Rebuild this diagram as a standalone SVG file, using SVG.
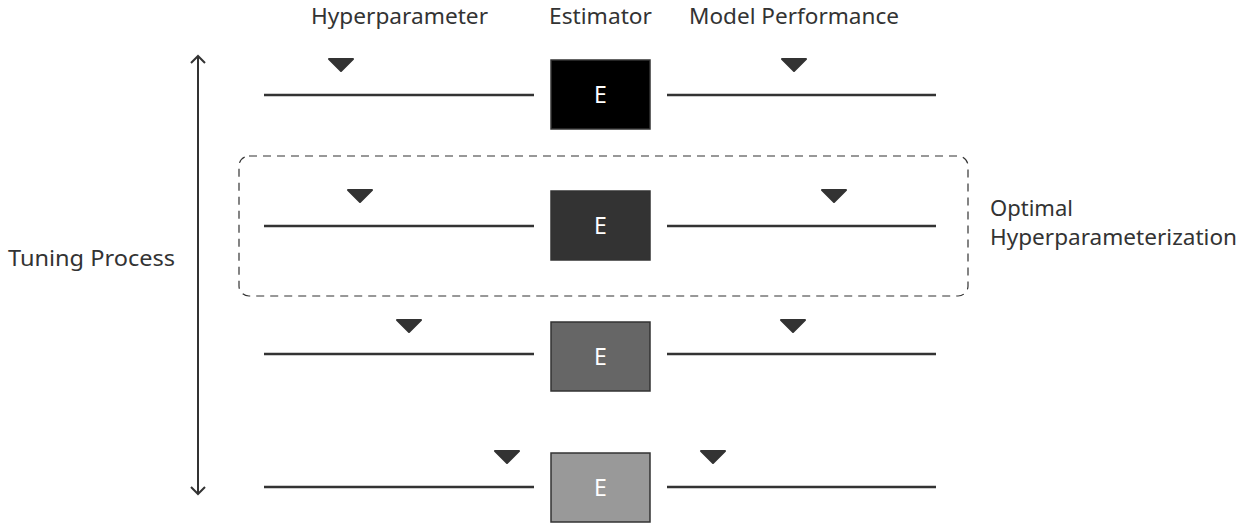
<svg xmlns="http://www.w3.org/2000/svg" width="1245" height="531" viewBox="0 0 1245 531">
<defs>
<style>
.t{font-family:"Noto Sans","DejaVu Sans",sans-serif;font-size:22.5px;fill:#333}
.e{font-family:"Noto Sans","DejaVu Sans",sans-serif;font-size:23px;fill:#fff;text-anchor:middle}
.ln{stroke:#333;stroke-width:2.5;fill:none}
.tri{fill:#333;stroke:#333;stroke-width:2;stroke-linejoin:round}
.box{stroke:#333;stroke-width:1.5}
</style>
<marker id="ah" viewBox="0 0 16 16" refX="8" refY="8" markerWidth="16" markerHeight="16" markerUnits="userSpaceOnUse" orient="auto-start-reverse">
<path d="M1,1 L8,8 L1,15" fill="none" stroke="#333" stroke-width="2"/>
</marker>
</defs>
<rect width="1245" height="531" fill="#fff"/>
<g id="headers">
<text class="t" x="311" y="24" textLength="177" lengthAdjust="spacingAndGlyphs">Hyperparameter</text>
<text class="t" x="549" y="24" textLength="103" lengthAdjust="spacingAndGlyphs">Estimator</text>
<text class="t" x="689" y="24" textLength="210" lengthAdjust="spacingAndGlyphs">Model Performance</text>
</g>
<g id="tuning">
<text class="t" x="8" y="266" textLength="167" lengthAdjust="spacingAndGlyphs">Tuning Process</text>
</g>
<g id="optimal">
<rect x="239" y="156" width="729" height="140" rx="10" fill="none" stroke="#333" stroke-width="1.2" stroke-dasharray="8,6"/>
<text class="t" x="990" y="216" textLength="83" lengthAdjust="spacingAndGlyphs">Optimal</text>
<text class="t" x="990" y="245" textLength="247" lengthAdjust="spacingAndGlyphs">Hyperparameterization</text>
</g>
<g id="connectors">
<line class="ln" x1="198" y1="56" x2="198" y2="494" marker-start="url(#ah)" marker-end="url(#ah)" style="stroke-width:2"/>
<line class="ln" x1="264" y1="95" x2="534" y2="95"/>
<line class="ln" x1="667" y1="95" x2="936" y2="95"/>
<line class="ln" x1="264" y1="226" x2="534" y2="226"/>
<line class="ln" x1="667" y1="226" x2="936" y2="226"/>
<line class="ln" x1="264" y1="354" x2="534" y2="354"/>
<line class="ln" x1="667" y1="354" x2="936" y2="354"/>
<line class="ln" x1="264" y1="487" x2="534" y2="487"/>
<line class="ln" x1="667" y1="487" x2="936" y2="487"/>
</g>
<g id="row1">
<rect class="box" x="551" y="60" width="99" height="69" fill="#000"/>
<text class="e" x="600.5" y="103">E</text>
<polygon class="tri" points="329,59 353,59 341,71"/>
<polygon class="tri" points="782,59 806,59 794,71"/>
</g>
<g id="row2">
<rect class="box" x="551" y="191" width="99" height="69" fill="#333"/>
<text class="e" x="600.5" y="234">E</text>
<polygon class="tri" points="348,190 372,190 360,202"/>
<polygon class="tri" points="822,190 846,190 834,202"/>
</g>
<g id="row3">
<rect class="box" x="551" y="322" width="99" height="69" fill="#666"/>
<text class="e" x="600.5" y="365">E</text>
<polygon class="tri" points="397,320 421,320 409,332"/>
<polygon class="tri" points="781,320 805,320 793,332"/>
</g>
<g id="row4">
<rect class="box" x="551" y="453" width="99" height="69" fill="#999"/>
<text class="e" x="600.5" y="496">E</text>
<polygon class="tri" points="495,451 519,451 507,463"/>
<polygon class="tri" points="701,451 725,451 713,463"/>
</g>
</svg>
